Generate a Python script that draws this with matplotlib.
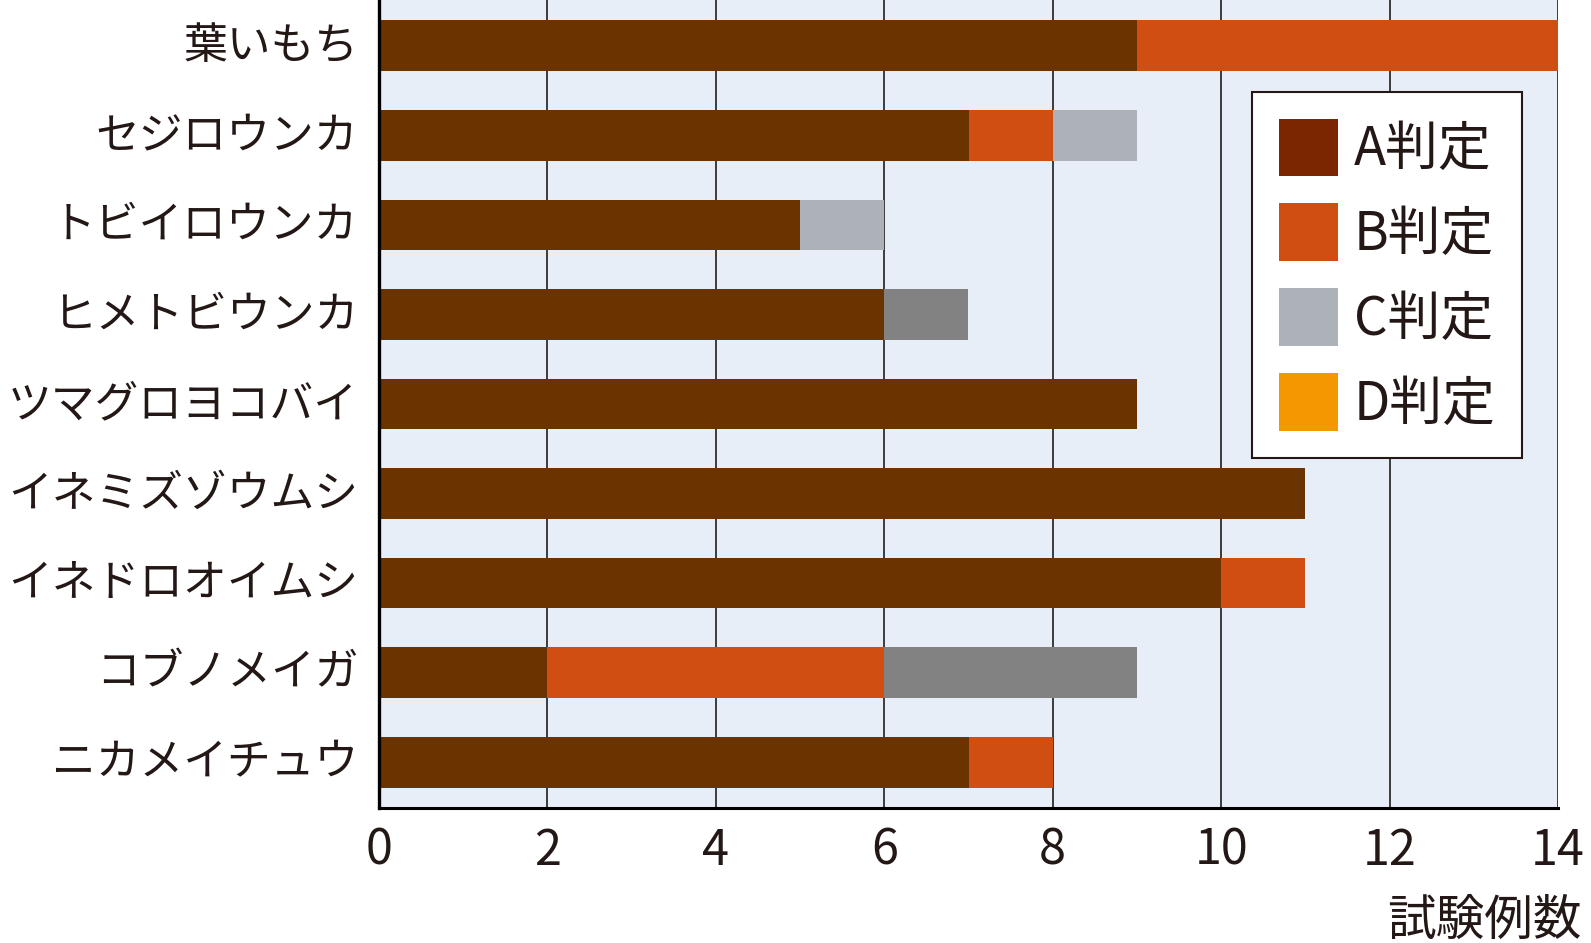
import numpy as np
import matplotlib.pyplot as plt
import matplotlib.transforms as mtrans
from matplotlib.patches import Patch

plt.rcParams['font.family'] = ['Noto Sans CJK JP', 'DejaVu Sans']

pests = ["葉いもち", "セジロウンカ", "トビイロウンカ", "ヒメトビウンカ", "ツマグロヨコバイ",
         "イネミズゾウムシ", "イネドロオイムシ", "コブノメイガ", "ニカメイチュウ"]
a_vals = [9, 7, 5, 6, 9, 11, 10, 2, 7]
b_vals = [5, 1, 0, 0, 0, 0, 1, 4, 1]
c_vals = [0, 1, 1, 0, 0, 0, 0, 0, 0]
other_vals = [0, 0, 0, 1, 0, 0, 0, 3, 0]
d_vals = [0, 0, 0, 0, 0, 0, 0, 0, 0]
legend_labels = ["A判定", "B判定", "C判定", "D判定"]
xticks = [0, 2, 4, 6, 8, 10, 12, 14]

col_a = "#6b3300"
col_b = "#d14e12"
col_c = "#adb1b8"
col_other = "#828282"
col_d = "#f39800"
legend_cols = ["#7b2600", col_b, col_c, col_d]

fig = plt.figure(figsize=(15.91, 9.43), dpi=100)
ax = fig.add_axes([379/1591, 1 - 808/943, 1179/1591, 808/943])
ax.set_facecolor("#e8eef8")

y = np.arange(len(pests))
h = 0.565
left = np.zeros(len(pests))
for vals, col in [(a_vals, col_a), (b_vals, col_b), (c_vals, col_c), (other_vals, col_other), (d_vals, col_d)]:
    vals = np.array(vals, dtype=float)
    ax.barh(y, vals, left=left, height=h, color=col, zorder=3, linewidth=0)
    left += vals

ax.set_xlim(0, 14)
ax.set_ylim(len(pests) - 0.49, -0.51)
ax.set_xticks(xticks)
ax.set_yticks(y)
ax.set_yticklabels(pests, fontsize=31.5)
ax.set_xticklabels([str(t) for t in xticks], fontsize=35)
ax.tick_params(axis='y', length=0, pad=15, colors="#231815")
ax.tick_params(axis='x', length=0, pad=13, colors="#231815")
# nudge y labels up a little
shift = mtrans.ScaledTranslation(0, 5/100, fig.dpi_scale_trans)
for lab in ax.get_yticklabels():
    lab.set_transform(lab.get_transform() + shift)
ax.xaxis.grid(True, color="#3c3c3c", linewidth=1.4, zorder=1)
ax.set_axisbelow(True)
for s in ["top", "right"]:
    ax.spines[s].set_visible(False)
ax.spines["left"].set_linewidth(2.4)
ax.spines["bottom"].set_linewidth(2.2)
ax.spines["left"].set_zorder(5)

handles = [Patch(facecolor=c, edgecolor='none') for c in legend_cols]
leg = ax.legend(handles, legend_labels, loc='upper right', bbox_to_anchor=(0.9695, 0.886),
                borderaxespad=0, fontsize=38, handlelength=1.12, handleheight=1.31,
                handletextpad=0.3, labelspacing=0.5, borderpad=0.5,
                fancybox=False, framealpha=1, edgecolor="#231815")
leg.get_frame().set_linewidth(1.5)
for t in leg.get_texts():
    t.set_color("#231815")

fig.text(1582/1591, 8/943, "試験例数", ha='right', va='baseline', fontsize=35, color="#231815")

fig.savefig("out.png", dpi=100)
